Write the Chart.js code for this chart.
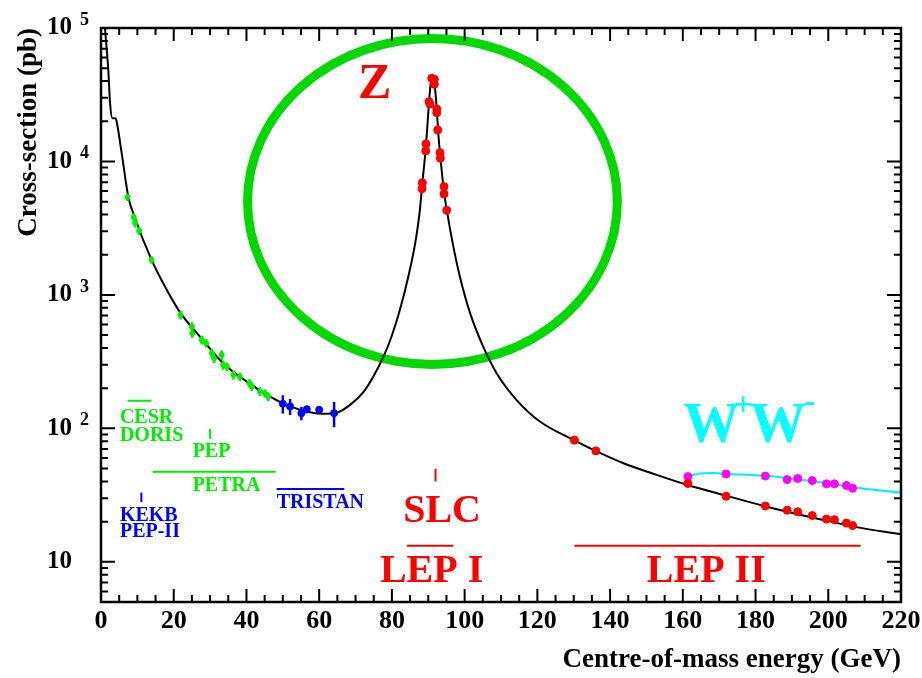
<!DOCTYPE html>
<html>
<head>
<meta charset="utf-8">
<script src="https://cdn.jsdelivr.net/npm/chart.js@4"></script>
<style>
html,body{margin:0;padding:0;background:#fff;}
#wrap{width:922px;height:678px;}
</style>
</head>
<body>
<div id="wrap"><canvas id="c" width="922" height="678"></canvas></div>
<script>
// ---------- DATA ----------
// Theory curve e+e- -> hadrons (black)
const curveE = [1.1, 2.0, 2.5, 3.1, 4.0, 4.3, 5.7, 7.5, 9.2, 13.9, 18.1, 21.9, 27.2, 33.6, 40.1, 46.5, 52.0, 57.5, 61.1, 64.8, 68.5, 72.1, 74.9, 77.6, 79.9, 82.2, 84.5, 86.4, 87.7, 88.3, 89.3, 90.2, 90.6, 91.0, 91.5, 92.0, 92.4, 92.7, 93.3, 94.3, 95.1, 96.9, 98.7, 101.5, 105.1, 108.8, 114.3, 120.7, 129.9, 136.0, 143.7, 152.8, 161.1, 172.1, 183.1, 198.6, 207.8, 220.0];
const curveSigma = [99000, 48400, 27300, 21100, 21100, 19900, 11500, 5450, 3870, 1830, 1090, 730, 487, 308, 224, 173, 146, 132, 128.5, 131, 150, 186, 245, 340, 488, 773, 1370, 2440, 4340, 6600, 12500, 27500, 37000, 43000, 41500, 32000, 23500, 17000, 11000, 6000, 4300, 2300, 1370, 730, 410, 259, 163, 112.5, 82, 67.8, 54.8, 44.8, 37.8, 31.2, 25.9, 20.6, 18.2, 16.1];

// Low-energy data (green: CESR, DORIS, PEP, PETRA)
const greenE = [7.3, 9.0, 9.4, 10.5, 13.9, 21.9, 25.0, 25.1, 27.7, 28.9, 30.5, 31.1, 33.2, 33.6, 34.6, 36.4, 38.2, 40.8, 41.5, 43.7, 45.1, 46.0];
const greenSigma = [5400, 3820, 3450, 3030, 1830, 708, 580, 516, 460, 435, 366, 336, 355, 299, 290, 252, 244, 218, 206, 189, 183, 173];
const greenErr = [350, 280, 250, 220, 120, 55, 45, 40, 35, 32, 30, 27, 30, 24, 22, 20, 18, 16, 15, 14, 13, 13];

// TRISTAN data (blue)
const blueE = [50.0, 52.0, 55.1, 56.6, 60.0, 64.1];
const blueSigma = [153, 146, 130, 139, 138, 130];
const blueErr = [24, 20, 15, 9, 9, 28];

// LEP I / SLC Z-peak data (red)
const zE = [90.95, 91.67, 91.67, 90.21, 90.48, 92.33, 92.33, 92.6, 89.38, 89.3, 93.23, 93.32, 88.37, 88.28, 94.33, 94.33, 95.08];
const zSigma = [41970, 41270, 37880, 28040, 26950, 24720, 23210, 17220, 13530, 11990, 11650, 10570, 6930, 6250, 6470, 5710, 4310];

// LEP II hadronic data (red)
const lep2E = [130.2, 136.1, 161.4, 171.9, 182.7, 188.7, 191.6, 195.6, 199.5, 201.7, 205.0, 206.7];
const lep2Sigma = [81.6, 67.8, 38.6, 31.0, 26.2, 24.4, 23.7, 22.2, 20.9, 20.7, 19.5, 18.7];

// W+W- data (magenta) and prediction (cyan)
const wwE = [161.4, 171.9, 182.7, 188.7, 191.6, 195.6, 199.5, 201.7, 205.0, 206.7];
const wwSigma = [43.5, 45.6, 43.9, 41.3, 42.1, 40.6, 38.4, 38.4, 37.3, 35.6];
const wwCurveE = [161.3, 163.8, 168.4, 172.1, 182.6, 191.3, 199.6, 206.9, 220.0];
const wwCurveSigma = [43.5, 45.4, 46.2, 45.6, 44.1, 41.6, 38.9, 36.2, 33.0];

// Axis tick labels
const xTickLabels = [0, 20, 40, 60, 80, 100, 120, 140, 160, 180, 200, 220];
const yDecadeExp = [1, 2, 3, 4, 5];

// ---------- helpers ----------
const pts = (xs, ys) => xs.map((x, i) => ({x: x, y: ys[i]}));
const FONT = '"Liberation Serif", "Times New Roman", serif';
const GREEN = '#00ee00', BLUE = '#0000ff', RED = '#ff0000', MAGENTA = '#ff00ff', CYAN = '#00f0f0';

// Annotations (placement in data coordinates, styles)
const annotations = [
  {t: 'CESR',    e: 5.2,  s: 110,   c: GREEN, f: 20},
  {t: 'DORIS',   e: 5.2,  s: 81.1,  c: GREEN, f: 20},
  {t: 'PEP',     e: 25.2, s: 60.8,  c: GREEN, f: 20},
  {t: 'PETRA',   e: 25.2, s: 34.2,  c: GREEN, f: 20},
  {t: 'TRISTAN', e: 48.3, s: 25.2,  c: BLUE,  f: 20},
  {t: 'KEKB',    e: 5.2,  s: 20.2,  c: BLUE,  f: 20},
  {t: 'PEP-II',  e: 5.2,  s: 15.3,  c: BLUE,  f: 20},
  {t: 'SLC',     e: 83.1, s: 20.0,  c: RED,   f: 40},
  {t: 'LEP I',   e: 76.7, s: 7.05,  c: RED,   f: 40},
  {t: 'LEP II',  e: 150.1,s: 7.05,  c: RED,   f: 40},
  {t: 'Z',       e: 70.7, s: 29900, c: RED,   f: 50}
];
const rangeBars = [
  {e0: 7.3,  e1: 13.9,  s0: 161,  s1: 161,  c: GREEN},
  {e0: 30.0, e1: 30.0,  s0: 83.4, s1: 99,   c: GREEN},
  {e0: 14.2, e1: 48.0,  s0: 47.4, s1: 47.4, c: GREEN},
  {e0: 48.3, e1: 66.9,  s0: 35.2, s1: 35.2, c: BLUE},
  {e0: 11.1, e1: 11.1,  s0: 28,   s1: 33,   c: BLUE},
  {e0: 92.0, e1: 92.0,  s0: 40,   s1: 49.8, c: RED},
  {e0: 84.1, e1: 96.9,  s0: 13.2, s1: 13.2, c: RED},
  {e0: 130.2,e1: 208.9, s0: 13.2, s1: 13.2, c: RED}
];
const circleE = [40.3, 142.0];
const circleSigma = [301, 83400];

const decor = {
  id: 'decor',
  beforeDatasetsDraw(chart) {
    const {ctx, scales: {x, y}} = chart;
    const l = x.getPixelForValue(circleE[0]), r = x.getPixelForValue(circleE[1]);
    const t = y.getPixelForValue(circleSigma[1]), b = y.getPixelForValue(circleSigma[0]);
    ctx.save();
    ctx.strokeStyle = '#00d800';
    ctx.lineWidth = 9;
    ctx.beginPath();
    ctx.ellipse((l + r) / 2, (t + b) / 2, (r - l) / 2, (b - t) / 2, 0, 0, Math.PI * 2);
    ctx.stroke();
    ctx.restore();
  },
  afterDatasetsDraw(chart) {
    const {ctx, chartArea: ca, scales: {x, y}} = chart;
    ctx.save();
    // error bars
    const errBars = (es, ss, errs, col, w) => {
      ctx.strokeStyle = col; ctx.lineWidth = w;
      es.forEach((e, i) => {
        const px = x.getPixelForValue(e);
        ctx.beginPath();
        ctx.moveTo(px, y.getPixelForValue(ss[i] - errs[i]));
        ctx.lineTo(px, y.getPixelForValue(ss[i] + errs[i]));
        ctx.stroke();
      });
    };
    errBars(greenE, greenSigma, greenErr, GREEN, 2.5);
    errBars(blueE, blueSigma, blueErr, BLUE, 2.5);

    // range bars
    ctx.lineWidth = 2;
    rangeBars.forEach(rb => {
      ctx.strokeStyle = rb.c;
      ctx.beginPath();
      ctx.moveTo(x.getPixelForValue(rb.e0), y.getPixelForValue(rb.s0));
      ctx.lineTo(x.getPixelForValue(rb.e1), y.getPixelForValue(rb.s1));
      ctx.stroke();
    });

    // text annotations
    ctx.textAlign = 'left';
    ctx.textBaseline = 'alphabetic';
    annotations.forEach(a => {
      ctx.fillStyle = a.c;
      ctx.font = 'bold ' + a.f + 'px ' + FONT;
      ctx.fillText(a.t, x.getPixelForValue(a.e), y.getPixelForValue(a.s));
    });
    // W+W- label with superscripts
    {
      let px = x.getPixelForValue(160.2), py = y.getPixelForValue(79.6);
      ctx.fillStyle = '#00ffff';
      const big = 'bold 56px ' + FONT, sup = 'bold 34px ' + FONT;
      ctx.font = big; ctx.fillText('W', px, py); px += ctx.measureText('W').width - 6;
      ctx.font = sup; ctx.fillText('+', px, py - 27); px += ctx.measureText('+').width - 3;
      ctx.font = big; ctx.fillText('W', px, py); px += ctx.measureText('W').width - 2;
      ctx.font = sup; ctx.fillText('-', px, py - 30);
    }

    // frame
    ctx.strokeStyle = '#000';
    ctx.lineWidth = 2.5;
    ctx.strokeRect(ca.left, ca.top, ca.right - ca.left, ca.bottom - ca.top);

    // inward ticks
    ctx.lineWidth = 2;
    ctx.beginPath();
    for (let e = 0; e <= 220; e += 5) {
      const px = x.getPixelForValue(e);
      const len = (e % 20 === 0) ? 13 : 7;
      ctx.moveTo(px, ca.bottom); ctx.lineTo(px, ca.bottom - len);
      ctx.moveTo(px, ca.top); ctx.lineTo(px, ca.top + len);
    }
    for (let p = 0; p <= 5; p++) {
      for (let m = 1; m <= 9; m++) {
        const v = m * Math.pow(10, p);
        if (v < 5 || v > 100000) continue;
        const py = y.getPixelForValue(v);
        const len = (m === 1) ? 14 : 7;
        ctx.moveTo(ca.left, py); ctx.lineTo(ca.left + len, py);
        ctx.moveTo(ca.right, py); ctx.lineTo(ca.right - len, py);
      }
    }
    ctx.stroke();

    // exponents of y tick labels
    ctx.fillStyle = '#000';
    ctx.font = 'bold 18px ' + FONT;
    ctx.textAlign = 'left';
    ctx.textBaseline = 'alphabetic';
    yDecadeExp.forEach(p => {
      if (p < 2) return;
      ctx.fillText(String(p), 80, y.getPixelForValue(Math.pow(10, p)) - 3);
    });
    ctx.restore();
  }
};

new Chart(document.getElementById('c'), {
  type: 'scatter',
  data: {
    datasets: [
      {label: 'Z peak', data: pts(zE, zSigma), backgroundColor: RED, borderColor: RED, pointRadius: 4, showLine: false, order: 1},
      {label: 'LEP II', data: pts(lep2E, lep2Sigma), backgroundColor: RED, borderColor: RED, pointRadius: 4, showLine: false, order: 1},
      {label: 'W+W- data', data: pts(wwE, wwSigma), backgroundColor: MAGENTA, borderColor: MAGENTA, pointRadius: 4, showLine: false, order: 1},
      {label: 'low energy', data: pts(greenE, greenSigma), backgroundColor: GREEN, borderColor: GREEN, pointRadius: 2.5, showLine: false, order: 2},
      {label: 'TRISTAN', data: pts(blueE, blueSigma), backgroundColor: BLUE, borderColor: BLUE, pointRadius: 3.5, showLine: false, order: 2},
      {label: 'theory', data: pts(curveE, curveSigma), borderColor: '#000', borderWidth: 2, pointRadius: 0, showLine: true, cubicInterpolationMode: 'monotone', order: 3},
      {label: 'WW theory', data: pts(wwCurveE, wwCurveSigma), borderColor: CYAN, borderWidth: 2, pointRadius: 0, showLine: true, cubicInterpolationMode: 'monotone', order: 3}
    ]
  },
  options: {
    responsive: false,
    animation: false,
    devicePixelRatio: 1,
    layout: {padding: {left: 0, right: 21, top: 28, bottom: 0}},
    plugins: {legend: {display: false}, tooltip: {enabled: false}},
    scales: {
      x: {
        type: 'linear', position: 'bottom', min: 0, max: 220,
        afterFit: s => { s.height = 76; s.paddingLeft = 0; s.paddingRight = 0; },
        grid: {display: false, drawTicks: false},
        border: {display: false},
        ticks: {
          stepSize: 20, autoSkip: false, maxRotation: 0, padding: 4,
          color: '#000', font: {family: FONT, size: 26, weight: 'bold'},
          callback: v => xTickLabels.includes(v) ? String(v) : ''
        },
        title: {display: true, text: 'Centre-of-mass energy (GeV)', align: 'end', color: '#000',
                font: {family: FONT, size: 27, weight: 'bold'}, padding: {top: 0, bottom: 2}}
      },
      y: {
        type: 'logarithmic', position: 'left', min: 5, max: 100000,
        afterFit: s => { s.width = 101; s.paddingTop = 0; s.paddingBottom = 0; },
        grid: {display: false, drawTicks: false},
        border: {display: false},
        ticks: {
          autoSkip: false, padding: 29, color: '#000',
          font: {family: FONT, size: 25, weight: 'bold'},
          callback: v => {
            const p = Math.log10(v);
            return (Math.abs(p - Math.round(p)) < 1e-9 && yDecadeExp.includes(Math.round(p))) ? '10' : '';
          }
        },
        title: {display: true, text: 'Cross-section (pb)', align: 'end', color: '#000',
                font: {family: FONT, size: 27, weight: 'bold'}, padding: {top: 13, bottom: 0}}
      }
    }
  },
  plugins: [decor]
});
</script>
</body>
</html>
